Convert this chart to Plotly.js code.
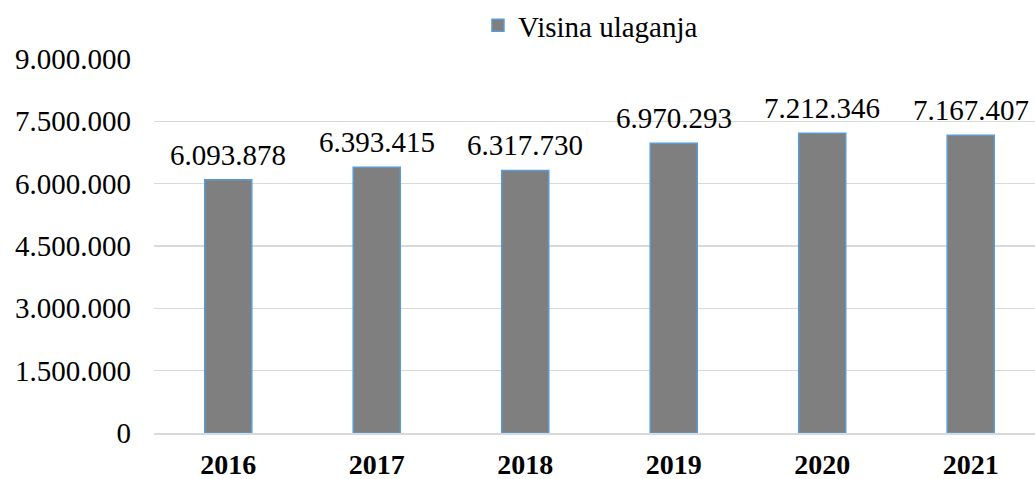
<!DOCTYPE html>
<html>
<head>
<meta charset="utf-8">
<script src="https://cdn.plot.ly/plotly-3.0.1.min.js"></script>
<style>html,body{margin:0;padding:0;background:#fff;overflow:hidden}#chart{width:1035px;height:479px}</style>
</head>
<body>
<div id="chart"></div>
<script>
const years = ['2016', '2017', '2018', '2019', '2020', '2021'];
const values = [6093878, 6393415, 6317730, 6970293, 7212346, 7167407];
const seriesName = 'Visina ulaganja';
const yTicks = [0, 1500000, 3000000, 4500000, 6000000, 7500000, 9000000];

const FONT = 'Liberation Serif, Times New Roman, serif';
function fmt(v) { return String(v).replace(/\B(?=(\d{3})+(?!\d))/g, '.'); }

const trace = {
  type: 'bar',
  x: years,
  y: values,
  name: seriesName,
  showlegend: true,
  marker: { color: '#7f7f7f', line: { color: '#5b9bd5', width: 1.5 } },
  hoverinfo: 'skip'
};

const annotations = years.map((yr, i) => ({
  x: i, y: values[i], xref: 'x', yref: 'y',
  text: fmt(values[i]), showarrow: false,
  yanchor: 'bottom', xanchor: 'center', yshift: 7,
  font: { family: FONT, size: 29, color: '#000' }
}));

const layout = {
  width: 1035, height: 479,
  margin: { l: 154, r: 0, t: 58, b: 46 },
  paper_bgcolor: '#fff', plot_bgcolor: '#fff',
  font: { family: FONT, size: 29, color: '#000' },
  separators: ',.',
  bargap: 0.683,
  showlegend: true,
  legend: {
    orientation: 'h', xref: 'container', yref: 'container',
    x: 0.4618, xanchor: 'left', y: 1, yanchor: 'top',
    font: { family: FONT, size: 29, color: '#000' },
    bgcolor: 'rgba(0,0,0,0)'
  },
  xaxis: {
    type: 'category', range: [-0.5, 5.433],
    showgrid: false, zeroline: false,
    showline: true, linecolor: '#d9d9d9', linewidth: 1.5,
    ticks: '', ticklabelstandoff: 6,
    tickfont: { family: FONT, size: 28, color: '#000', weight: 'bold' }
  },
  yaxis: {
    range: [0, 9024000], tickvals: yTicks, ticktext: yTicks.map(fmt),
    showgrid: true, gridcolor: '#d9d9d9', gridwidth: 1.5,
    zeroline: false, showline: false, ticks: '',
    ticklabelstandoff: 22,
    tickfont: { family: FONT, size: 29, color: '#000' }
  },
  annotations: annotations
};

Plotly.newPlot('chart', [trace], layout, { displayModeBar: false, staticPlot: true });
</script>
</body>
</html>
